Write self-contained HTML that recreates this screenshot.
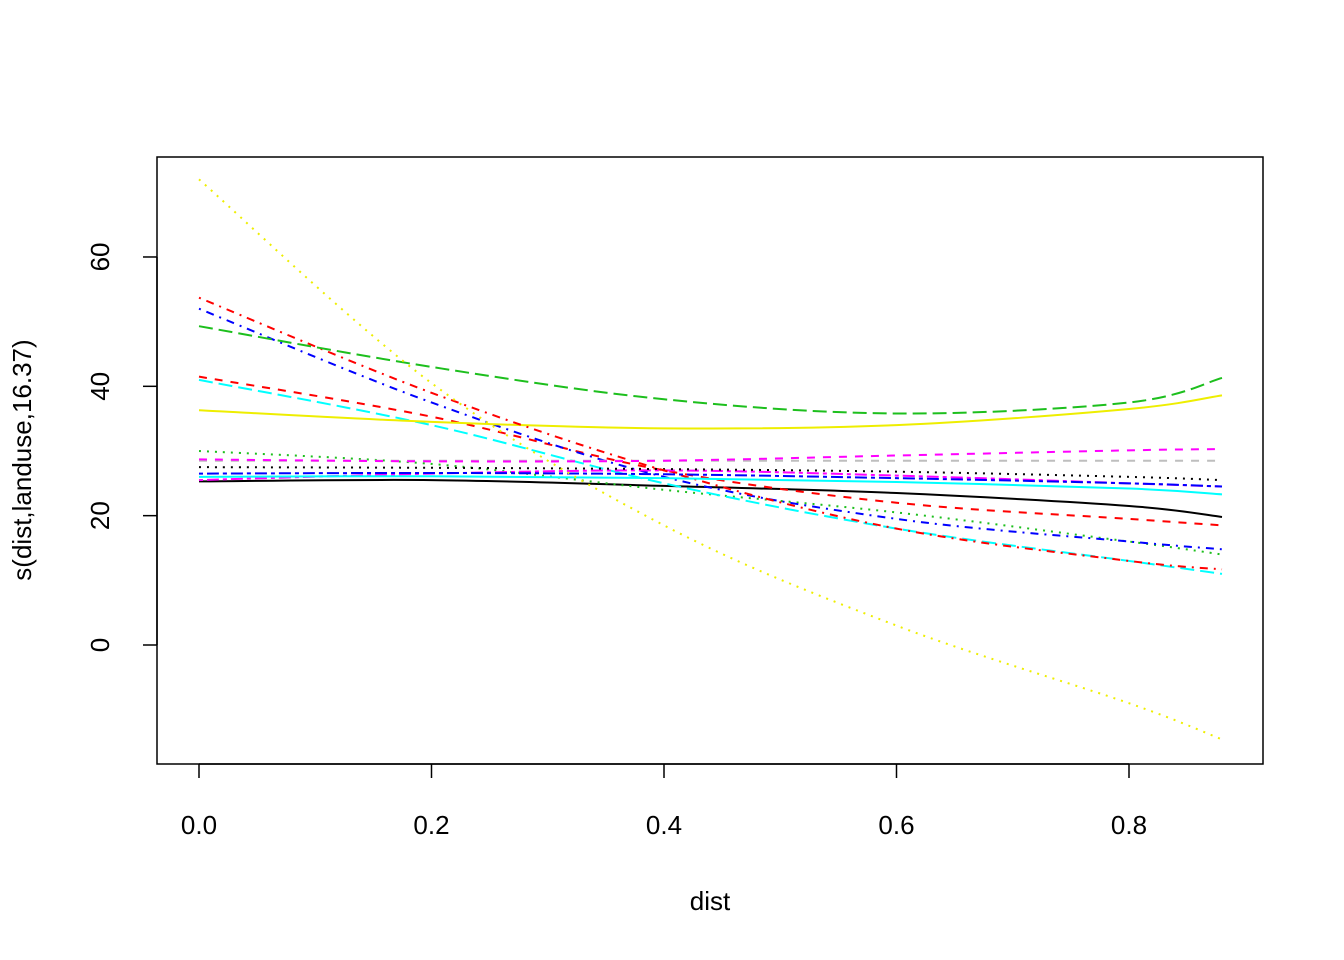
<!DOCTYPE html>
<html><head><meta charset="utf-8"><style>
body{margin:0;background:#fff}
svg{display:block;font-family:"Liberation Sans",Arial,sans-serif}
</style></head><body>
<svg id="chart" width="1344" height="960" xmlns="http://www.w3.org/2000/svg">
<rect width="1344" height="960" fill="#fff"/>
<g id="lines"></g>
<rect x="157" y="157" width="1106" height="607" fill="none" stroke="#000" stroke-width="1.5"/>
<g id="axes"></g>
<text x="710" y="910" font-size="26" text-anchor="middle">dist</text>
<text transform="translate(31,460) rotate(-90)" font-size="26" text-anchor="middle">s(dist,landuse,16.37)</text>
</svg>
<script>
const xs = [0, 0.2, 0.4, 0.6, 0.8, 0.88];
const s1 = [25.3, 25.5, 24.6, 23.5, 21.5, 19.8];
const s2 = [41.5, 35.3, 27, 22, 19.5, 18.5];
const s3 = [30, 28, 24, 20.5, 16, 14];
const s4 = [52, 37.5, 26, 19.5, 16, 14.8];
const s5 = [41, 34, 25, 18, 13, 11];
const s6 = [25.5, 26.5, 27, 26.2, 25, 24.5];
const s7 = [36.3, 34.5, 33.5, 34, 36.5, 38.6];
const s8 = [28.5, 28.5, 28.5, 28.5, 28.5, 28.5];
const s9 = [27.5, 27.4, 27.2, 26.8, 26, 25.5];
const s10 = [53.7, 39, 27, 18, 13, 11.7];
const s11 = [49.3, 43, 38, 35.8, 37.5, 41.3];
const s12 = [26.5, 26.6, 26.4, 25.8, 25, 24.5];
const s13 = [26, 26.1, 25.8, 25.2, 24.2, 23.3];
const s14 = [28.7, 28.4, 28.5, 29.3, 30.1, 30.3];
const s15 = [72, 40.5, 18.5, 3, -9, -14.6];
const xTicks = [0, 0.2, 0.4, 0.6, 0.8];
const xTickLabels = ["0.0", "0.2", "0.4", "0.6", "0.8"];
const yTicks = [0, 20, 40, 60];
const yTickLabels = ["0", "20", "40", "60"];

const X = v => 199 + v * 1162.5;
const Y = v => 645 - v * 6.467;
const NS = "http://www.w3.org/2000/svg";
const series = [s1,s2,s3,s4,s5,s6,s7,s8,s9,s10,s11,s12,s13,s14,s15];
const cols = ["#000","#f00","#1dbf1d","#00f","#0ff","#f0f","#ee0","#bebebe"];
const dashes = ["", "8,8", "2,6", "2,6,8,6", "14,6", "4,4,12,4"];
function pathFor(vals){
  const p = xs.map((x,i)=>[X(x),Y(vals[i])]);
  let d = `M${p[0][0]},${p[0][1]}`;
  for(let i=0;i<p.length-1;i++){
    const p0=p[Math.max(i-1,0)],p1=p[i],p2=p[i+1],p3=p[Math.min(i+2,p.length-1)];
    const c1=[p1[0]+(p2[0]-p0[0])/6,p1[1]+(p2[1]-p0[1])/6];
    const c2=[p2[0]-(p3[0]-p1[0])/6,p2[1]-(p3[1]-p1[1])/6];
    d+=` C${c1[0]},${c1[1]} ${c2[0]},${c2[1]} ${p2[0]},${p2[1]}`;
  }
  return d;
}
const lg = document.getElementById('lines');
series.forEach((s,i)=>{
  const el = document.createElementNS(NS,'path');
  el.setAttribute('d',pathFor(s));
  el.setAttribute('fill','none');
  el.setAttribute('stroke',cols[i%8]);
  el.setAttribute('stroke-width','2');
  const da = dashes[i%6]; if(da) el.setAttribute('stroke-dasharray',da);
  
  
  lg.appendChild(el);
});
const ax = document.getElementById('axes');
function add(tag, attrs, text){
  const el=document.createElementNS(NS,tag);
  for(const k in attrs) el.setAttribute(k,attrs[k]);
  if(text!==undefined) el.textContent=text;
  ax.appendChild(el); return el;
}
const xl = add('line',{x1:X(0),x2:X(0.8),y1:764,y2:764,stroke:'#000','stroke-width':1.5});


xTicks.forEach((t,i)=>{
  const tk = add('line',{x1:X(t),x2:X(t),y1:764,y2:778,stroke:'#000','stroke-width':1.5});
  
  
  const lb = add('text',{x:X(t),y:834,'font-size':26,'text-anchor':'middle'},xTickLabels[i]);
  
  
});
const yl = add('line',{x1:157,x2:157,y1:Y(0),y2:Y(60),stroke:'#000','stroke-width':1.5});


yTicks.forEach((t,i)=>{
  const tk = add('line',{x1:143,x2:157,y1:Y(t),y2:Y(t),stroke:'#000','stroke-width':1.5});
  
  
  const lb = add('text',{transform:`translate(109,${Y(t)}) rotate(-90)`,'font-size':26,'text-anchor':'middle'},yTickLabels[i]);
  
  
});
</script>
</body></html>
